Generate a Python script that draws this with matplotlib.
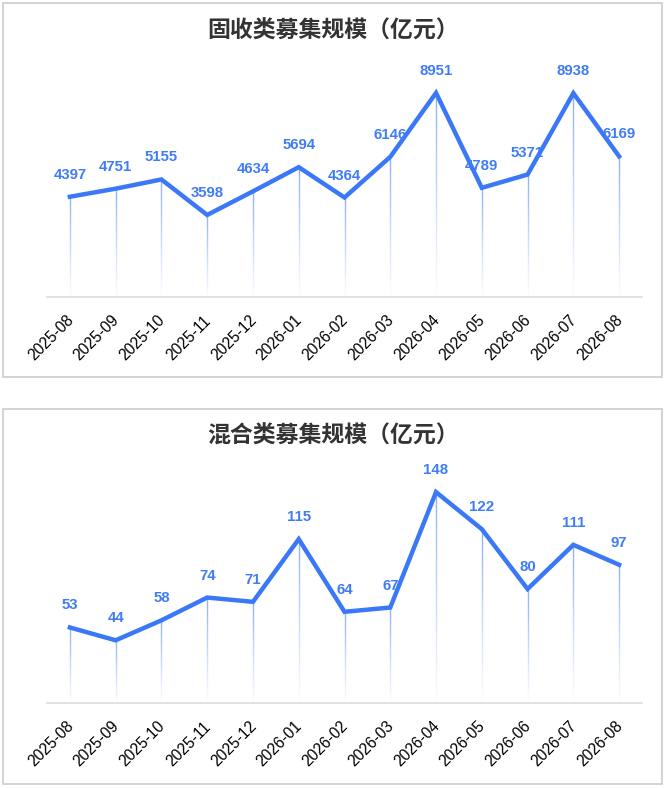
import matplotlib
matplotlib.use("Agg")
import matplotlib.pyplot as plt
from matplotlib.patches import Rectangle
from matplotlib.collections import LineCollection
import matplotlib.colors as mcolors
import numpy as np

months = ["2025-08", "2025-09", "2025-10", "2025-11", "2025-12", "2026-01", "2026-02",
          "2026-03", "2026-04", "2026-05", "2026-06", "2026-07", "2026-08"]
fixed_income = [4397, 4751, 5155, 3598, 4634, 5694, 4364, 6146, 8951, 4789, 5371, 8938, 6169]
mixed = [53, 44, 58, 74, 71, 115, 64, 67, 148, 122, 80, 111, 97]
titles = ["固收类募集规模（亿元）", "混合类募集规模（亿元）"]
ymax = [10000, 160]

W, H = 666, 788
LINE = "#3b78f7"
LABEL = "#3f7cf5"

fig = plt.figure(figsize=(W / 100, H / 100), dpi=100)

def fy(y):
    return 1 - y / H

panels = [
    dict(box=(3, 3, 662, 377), ax=(47, 69, 642, 297), title_y=31, data=fixed_income, ymax=ymax[0], title=titles[0]),
    dict(box=(3, 409, 662, 784), ax=(47, 475, 642, 703), title_y=436, data=mixed, ymax=ymax[1], title=titles[1]),
]

for p in panels:
    x0, y0, x1, y1 = p["box"]
    fig.patches.append(Rectangle((x0 / W, fy(y1)), (x1 - x0) / W, (y1 - y0) / H,
                                 transform=fig.transFigure, fill=False,
                                 edgecolor="#cccccc", linewidth=1.2))
    fig.text(0.5, fy(p["title_y"]), p["title"], ha="center", va="center",
             fontsize=16.5, fontweight="bold", color="#333333",
             family=["Noto Sans CJK SC", "DejaVu Sans"])

    ax0, ay0, ax1, ay1 = p["ax"]
    ax = fig.add_axes([ax0 / W, fy(ay1), (ax1 - ax0) / W, (ay1 - ay0) / H])
    n = len(months)
    xs = np.arange(n)
    vals = np.array(p["data"], dtype=float)
    ax.set_xlim(-0.5, n - 0.5)
    ax.set_ylim(0, p["ymax"])
    for s in ["top", "right", "left"]:
        ax.spines[s].set_visible(False)
    ax.spines["bottom"].set_color("#dddddd")
    ax.spines["bottom"].set_linewidth(1.2)
    ax.set_yticks([])
    ax.set_xticks(xs)
    ax.tick_params(axis="x", length=0, pad=0)
    ax.set_xticklabels([])

    # gradient drop lines
    base_rgb = mcolors.to_rgb(LINE)
    segs, cols = [], []
    for xi, v in zip(xs, vals):
        m = 40
        ys = np.linspace(v, 0, m + 1)
        for k in range(m):
            segs.append([(xi, ys[k]), (xi, ys[k + 1])])
            a = 0.6 * (1 - k / m) ** 1.1
            cols.append((*base_rgb, a))
    ax.add_collection(LineCollection(segs, colors=cols, linewidths=1.0, zorder=1))

    ax.plot(xs, vals, color=LINE, linewidth=3.2, solid_joinstyle="miter", zorder=3)

    for xi, v in zip(xs, vals):
        ax.annotate(f"{int(v)}", (xi, v), xytext=(0, 22 * 0.72), textcoords="offset points",
                    ha="center", va="center", fontsize=10.8, fontweight="bold",
                    color=LABEL, family="Liberation Sans", zorder=4)

    for xi, lab in zip(xs, months):
        ax.annotate(lab, (xi, 0), xytext=(1 * 0.72, -21 * 0.72), textcoords="offset points",
                    ha="right", va="center", rotation=45, rotation_mode="anchor",
                    fontsize=11.2, color="#000000", family="Liberation Sans",
                    annotation_clip=False)

fig.savefig("out.png", dpi=100)
